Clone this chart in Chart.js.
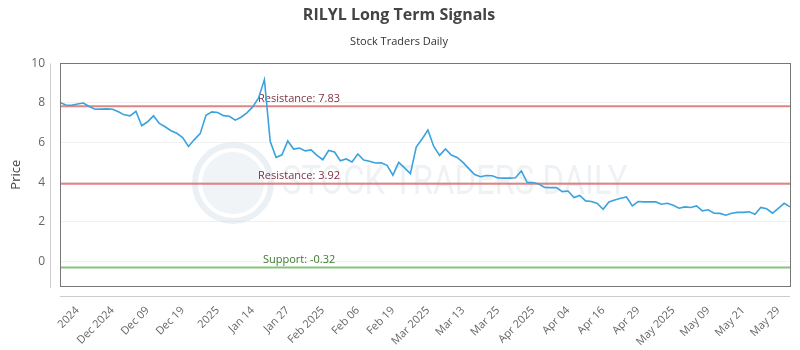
<!DOCTYPE html>
<html>
<head>
<meta charset="utf-8">
<script src="https://cdn.jsdelivr.net/npm/chart.js@4.4.0/dist/chart.umd.min.js"></script>
<style>
  html, body { margin: 0; padding: 0; background: #fff; }
  #wrap { width: 800px; height: 350px; }
</style>
</head>
<body>
<div id="wrap"><canvas id="grafik_signals"></canvas></div>
<script>
// price series (one point per trading day)
var prices = [
    8.02, 7.90, 7.88, 7.95, 8.00, 7.82, 7.68, 7.69, 7.70, 7.68,
    7.56, 7.40, 7.35, 7.58, 6.85, 7.05, 7.35, 6.97, 6.80, 6.60,
    6.47, 6.25, 5.80, 6.15, 6.45, 7.38, 7.55, 7.52, 7.36, 7.33,
    7.13, 7.28, 7.50, 7.80, 8.25, 9.18, 6.05, 5.25, 5.38, 6.08,
    5.67, 5.72, 5.58, 5.63, 5.35, 5.13, 5.60, 5.52, 5.08, 5.17,
    5.02, 5.42, 5.12, 5.05, 4.97, 4.98, 4.85, 4.35, 5.00, 4.72,
    4.43, 5.77, 6.18, 6.63, 5.80, 5.35, 5.68, 5.37, 5.25, 5.00,
    4.68, 4.38, 4.27, 4.33, 4.32, 4.21, 4.20, 4.20, 4.22, 4.57,
    3.98, 3.98, 3.90, 3.73, 3.72, 3.72, 3.52, 3.55, 3.22, 3.33,
    3.05, 3.02, 2.92, 2.63, 3.00, 3.10, 3.18, 3.25, 2.80, 3.02,
    3.00, 3.00, 3.00, 2.88, 2.93, 2.83, 2.68, 2.75, 2.72, 2.80,
    2.55, 2.60, 2.43, 2.42, 2.33, 2.43, 2.47, 2.47, 2.50, 2.38,
    2.72, 2.65, 2.43, 2.67, 2.93, 2.75
];
// labels shown on the x axis, one every 6 sessions starting at session 3
var tickLabels = ['2024', 'Dec 2024', 'Dec 09', 'Dec 19', '2025', 'Jan 14', 'Jan 27',
    'Feb 2025', 'Feb 06', 'Feb 19', 'Mar 2025', 'Mar 13', 'Mar 25', 'Apr 2025',
    'Apr 04', 'Apr 16', 'Apr 29', 'May 2025', 'May 09', 'May 21', 'May 29'];
var tickStart = 3;
var tickStep = 6;
var yTicks = [0, 2, 4, 6, 8, 10];

var levelValues = [7.83, 3.92, -0.32];
var levelLabels = ['Resistance: 7.83', 'Resistance: 3.92', 'Support: -0.32'];
var levelColors = ['rgba(220,110,110,0.85)', 'rgba(220,110,110,0.85)', 'rgba(120,190,110,0.9)'];
var levelTextColors = ['#7d3340', '#7d3340', '#3f7a2e'];

var sessions = prices.map((p, i) => i);

var fontFam = "'Open Sans', 'DejaVu Sans', sans-serif";

var frame = {
    id: 'frame',
    beforeDatasetsDraw: function (chart) {
        const c = chart.ctx;
        const a = chart.chartArea;
        const y = chart.scales.y;
        c.save();
        // watermark
        const cx = 233, cy = y.getPixelForValue(3.95);
        c.strokeStyle = 'rgba(205,218,230,0.4)';
        c.lineWidth = 6;
        c.beginPath();
        c.arc(cx, cy, 38, 0, Math.PI * 2);
        c.stroke();
        c.fillStyle = 'rgba(205,218,230,0.3)';
        c.beginPath();
        c.arc(cx, cy, 31, 0, Math.PI * 2);
        c.fill();
        c.save();
        c.translate(282, cy + 1);
        c.scale(0.82, 1);
        c.font = "40px 'Roboto', sans-serif";
        c.fillStyle = 'rgba(215,222,230,0.4)';
        c.textBaseline = 'middle';
        c.fillText('STOCK TRADERS DAILY', 0, 0);
        c.restore();
        // levels
        for (let i = 0; i < levelValues.length; i++) {
            const py = y.getPixelForValue(levelValues[i]);
            c.strokeStyle = levelColors[i];
            c.lineWidth = 2;
            c.beginPath();
            c.moveTo(a.left, py);
            c.lineTo(a.right, py);
            c.stroke();
            c.fillStyle = levelTextColors[i];
            c.font = '11px ' + fontFam;
            c.textBaseline = 'bottom';
            c.fillText(levelLabels[i], i === 2 ? 263 : 258, py - 2);
        }
        c.restore();
    },
    afterDraw: function (chart) {
        const c = chart.ctx;
        const a = chart.chartArea;
        c.save();
        c.strokeStyle = '#777';
        c.lineWidth = 1;
        c.strokeRect(Math.round(a.left) + 0.5, Math.round(a.top) + 0.5,
            Math.round(a.right - a.left), Math.round(a.bottom - a.top));
        c.strokeStyle = '#ccc';
        c.beginPath();
        c.moveTo(Math.round(a.left) - 9.5, a.top);
        c.lineTo(Math.round(a.left) - 9.5, a.bottom + 2);
        c.moveTo(a.left, Math.round(a.bottom) + 10.5);
        c.lineTo(a.right, Math.round(a.bottom) + 10.5);
        c.stroke();
        c.restore();
    }
};

const ctx = document.getElementById('grafik_signals');
new Chart(ctx, {
    type: 'line',
    data: {
        labels: sessions,
        datasets: [{
            label: 'RILYL',
            data: prices,
            borderColor: 'rgb(58,163,222)',
            borderWidth: 1.6,
            pointRadius: 0,
            tension: 0,
            fill: false
        }]
    },
    options: {
        responsive: true,
        maintainAspectRatio: false,
        animation: false,
        layout: { padding: { left: 8, right: 10, top: 0, bottom: 0 } },
        plugins: {
            legend: { display: false },
            tooltip: { enabled: false },
            title: {
                display: true,
                text: 'RILYL Long Term Signals',
                color: '#444',
                font: { family: fontFam, size: 16, weight: 'bold' },
                padding: { top: 6, bottom: 10 }
            },
            subtitle: {
                display: true,
                text: 'Stock Traders Daily',
                color: '#333',
                font: { family: fontFam, size: 11 },
                padding: { top: 0, bottom: 15 }
            }
        },
        scales: {
            x: {
                type: 'category',
                grid: { display: false },
                border: { display: false },
                ticks: {
                    autoSkip: false,
                    minRotation: 45,
                    maxRotation: 45,
                    padding: 10,
                    color: '#666',
                    font: { family: fontFam, size: 11 },
                    callback: function (val, i) {
                        const k = i - tickStart;
                        if (k >= 0 && k % tickStep === 0) return tickLabels[k / tickStep];
                        return null;
                    }
                },
                afterFit: function (s) { s.height = 64; }
            },
            y: {
                min: -1.25,
                max: 10,
                border: { display: false },
                grid: { color: '#f1f1f1', drawTicks: false },
                title: {
                    display: true,
                    text: 'Price',
                    color: '#444',
                    font: { family: fontFam, size: 13 },
                    padding: 0
                },
                ticks: {
                    color: '#666',
                    padding: 15,
                    font: { family: fontFam, size: 12 }
                },
                afterBuildTicks: function (s) {
                    s.ticks = yTicks.map(v => ({ value: v }));
                },
                afterFit: function (s) { s.width = 52; }
            }
        }
    },
    plugins: [frame]
});
</script>
</body>
</html>
